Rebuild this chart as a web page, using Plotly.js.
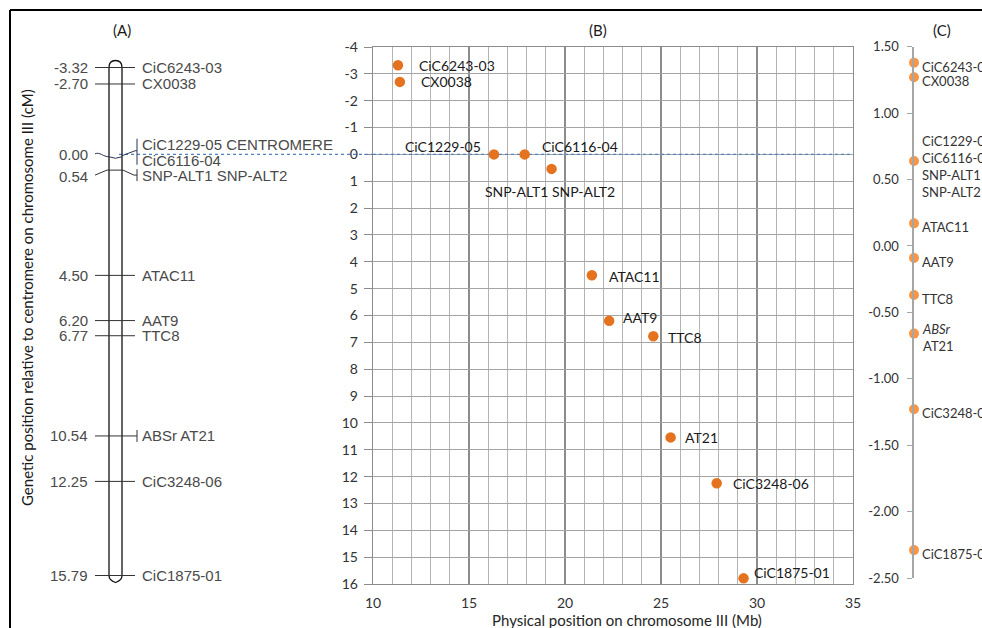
<!DOCTYPE html>
<html>
<head>
<meta charset="utf-8">
<script src="https://cdn.plot.ly/plotly-3.0.1.min.js"></script>
<style>
  html, body { margin: 0; padding: 0; background: #fff; }
  #chart { width: 982px; height: 628px; }
</style>
</head>
<body>
<div id="chart"></div>
<script>
// ---------- data ----------
// (A) linkage map of chromosome III: position relative to the centromere (cM)
const mapPos = [-3.32, -2.70, 0.00, 0.54, 4.50, 6.20, 6.77, 10.54, 12.25, 15.79];
const mapNames = [
  ['CiC6243-03'], ['CX0038'], ['CiC1229-05 CENTROMERE', 'CiC6116-04'],
  ['SNP-ALT1 SNP-ALT2'], ['ATAC11'], ['AAT9'], ['TTC8'], ['ABSr AT21'],
  ['CiC3248-06'], ['CiC1875-01']
];

// (B) physical position (Mb) against genetic position (cM)
const physMb = [11.3, 11.4, 16.3, 17.9, 19.3, 21.4, 22.3, 24.6, 25.5, 27.9, 29.3];
const genCM  = [-3.32, -2.70, 0.00, 0.00, 0.54, 4.50, 6.20, 6.77, 10.54, 12.25, 15.79];
const physNames = ['CiC6243-03', 'CX0038', 'CiC1229-05', 'CiC6116-04', 'SNP-ALT1 SNP-ALT2',
  'ATAC11', 'AAT9', 'TTC8', 'AT21', 'CiC3248-06', 'CiC1875-01'];

// (C) scaled marker values
const cVals = [1.38, 1.27, 0.64, 0.17, -0.09, -0.37, -0.66, -1.23, -2.29];
const cNames = ['CiC6243-03', 'CX0038', 'CiC1229-05<br>CiC6116-04<br>SNP-ALT1<br>SNP-ALT2',
  'ATAC11', 'AAT9', 'TTC8', '<i>ABSr</i><br>AT21', 'CiC3248-06', 'CiC1875-01'];

// tick labels
const bTickX = [10, 15, 20, 25, 30, 35];
const bTickY = [-4, -3, -2, -1, 0, 1, 2, 3, 4, 5, 6, 7, 8, 9, 10, 11, 12, 13, 14, 15, 16];
const cTick  = [1.5, 1.0, 0.5, 0.0, -0.5, -1.0, -1.5, -2.0, -2.5];

// ---------- layout geometry ----------
const W = 982, H = 628;
const fx = p => p / W;          // pixel column -> paper x
const fy = p => 1 - p / H;      // pixel row -> paper y

// panel B plot box (px)
const B = { l: 373, r: 853, t: 47, b: 584 };
// panel A: pixel rows of the first and last map positions
const A = { top: 67.5, bot: 575.5, wallL: 109, wallR: 122, lineL: 95, lineR: 135, numX: 90, nameX: 140 };
const aScale = (A.bot - A.top) / (mapPos[mapPos.length - 1] - mapPos[0]);
const aRange = [mapPos[mapPos.length - 1] + (H - A.bot) / aScale, mapPos[0] - A.top / aScale];
// panel C axis column and vertical extent
const C = { x: 914, t: 46.7, b: 578 };

const fontB = 'Lato, "Open Sans", sans-serif';
const fontA = '"Liberation Sans", Arial, sans-serif';
const orangeB = '#E5721E';
const orangeC = '#F79646';
const inkA = '#4a4a4a';

// label placement for panel B (pixel offsets from each point)
const bLabelStyle = [
  { anchor: 'left', dx: 19, dy: 0 },
  { anchor: 'left', dx: 19, dy: 0 },
  { anchor: 'right', dx: -11, dy: 8 },
  { anchor: 'left', dx: 15, dy: 8 },
  { anchor: 'center', dx: -2, dy: -23 },
  { anchor: 'left', dx: 15, dy: -1 },
  { anchor: 'left', dx: 12, dy: 3 },
  { anchor: 'left', dx: 13, dy: -1 },
  { anchor: 'left', dx: 12, dy: 0 },
  { anchor: 'left', dx: 14, dy: 0 },
  { anchor: 'left', dx: 8, dy: 6 }
];
// connector style for panel A (plain / centromere / snp / bracket)
const aStyle = ['plain', 'plain', 'centromere', 'snp', 'plain', 'plain', 'plain', 'bracket', 'plain', 'plain'];

// ---------- traces ----------
const traces = [
  {
    type: 'scatter', mode: 'markers', x: physMb, y: genCM, xaxis: 'x', yaxis: 'y',
    marker: { color: orangeB, size: 10.5 }, cliponaxis: false, hoverinfo: 'skip'
  },
  {
    type: 'scatter', mode: 'markers', x: cVals.map(() => 0), y: cVals, xaxis: 'x3', yaxis: 'y3',
    marker: { color: orangeC, size: 10 }, cliponaxis: false, hoverinfo: 'skip'
  }
];

// ---------- shapes ----------
const shapes = [];
const line = (x0, y0, x1, y1, color, width) => ({
  type: 'line', xref: 'paper', yref: 'paper', x0: fx(x0), y0: fy(y0), x1: fx(x1), y1: fy(y1),
  line: { color, width }, layer: 'above'
});
// outer frame
shapes.push(line(10, 10, W + 5, 10, '#000', 2));
shapes.push(line(10, 10, 10, H + 5, '#000', 2));

// centromere reference line (genetic position 0)
shapes.push({
  type: 'line', xref: 'x', yref: 'y', x0: 10, x1: 35, y0: 0, y1: 0, layer: 'between',
  line: { color: '#4F81BD', width: 1.3, dash: 'dot' }
});
shapes.push({
  type: 'line', xref: 'paper', yref: 'y', x0: fx(A.wallR - 3), x1: fx(B.l), y0: 0, y1: 0, layer: 'above',
  line: { color: '#4F81BD', width: 1.3, dash: 'dot' }
});

// chromosome body (A)
const first = mapPos[0], last = mapPos[mapPos.length - 1];
[A.wallL, A.wallR].forEach(xw => shapes.push({
  type: 'line', xref: 'x2', yref: 'y2', x0: xw, x1: xw, y0: first, y1: last,
  line: { color: '#111', width: 1.3 }, layer: 'above'
}));
const mid = (A.wallL + A.wallR) / 2;
shapes.push({
  type: 'path', xref: 'x2', yref: 'y2', ysizemode: 'pixel', yanchor: first, layer: 'above',
  path: `M${A.wallL},0 C${A.wallL},5 ${mid - 4},7 ${mid},7 C${mid + 4},7 ${A.wallR},5 ${A.wallR},0`,
  line: { color: '#111', width: 1.3 }
});
shapes.push({
  type: 'path', xref: 'x2', yref: 'y2', ysizemode: 'pixel', yanchor: last, layer: 'above',
  path: `M${A.wallL},0 C${A.wallL},-4 ${mid - 3},-6 ${mid},-7 C${mid + 3},-6 ${A.wallR},-4 ${A.wallR},0`,
  line: { color: '#111', width: 1.3 }
});

// marker connectors (A), offsets in pixels around each map position
function connectorPath(kind) {
  const L = A.lineL, wl = A.wallL, wr = A.wallR, R = A.lineR, bx = R + 2;
  if (kind === 'centromere') {
    return `M${L},2 C${L + 5},4 ${wl - 6},-1 ${wl},-1 Q${mid},-4 ${wr},-1 ` +
           `M${wr},0 L${R},5 L${bx},5 M${bx},17 L${bx},-9`;
  }
  if (kind === 'snp') {
    return `M${L},-5 L${wl - 2},0 L${wr + 1},0 L${R - 1},-5 L${bx},-5 M${bx},1 L${bx},-11`;
  }
  if (kind === 'bracket') {
    return `M${L},0 L${bx},0 M${bx},6 L${bx},-6`;
  }
  return `M${L},0 L${R},0`;
}
mapPos.forEach((v, i) => shapes.push({
  type: 'path', xref: 'x2', yref: 'y2', ysizemode: 'pixel', yanchor: v, layer: 'above',
  path: connectorPath(aStyle[i]),
  line: { color: aStyle[i] === 'centromere' ? '#2a3550' : '#333', width: 1 }
}));

// ---------- annotations ----------
const ann = [];
// panel letters
[['(A)', 122], ['(B)', 598], ['(C)', 942]].forEach(([t, x]) => ann.push({
  text: t, xref: 'paper', yref: 'paper', x: fx(x), y: fy(30), showarrow: false,
  xanchor: 'center', yanchor: 'middle', font: { family: fontB, size: 15, color: '#1a1a1a' }
}));
// axis titles
ann.push({
  text: 'Genetic position relative to centromere on chromosome III (cM)',
  xref: 'paper', yref: 'paper', x: fx(27), y: fy(298), textangle: -90, showarrow: false,
  xanchor: 'center', yanchor: 'middle', font: { family: fontB, size: 15, color: '#1a1a1a' }
});
ann.push({
  text: 'Physical position on chromosome III (Mb)',
  xref: 'paper', yref: 'paper', x: fx(627), y: fy(620), showarrow: false,
  xanchor: 'center', yanchor: 'middle', font: { family: fontB, size: 15, color: '#262626' }
});

// panel A labels
const numShift = { snp: -6, centromere: 1 };
mapPos.forEach((v, i) => {
  const kind = aStyle[i];
  ann.push({
    text: v.toFixed(2), xref: 'x2', yref: 'y2', x: A.numX, y: v, showarrow: false,
    xanchor: 'right', yanchor: 'middle', yshift: numShift[kind] || 0,
    font: { family: fontA, size: 15, color: inkA }
  });
  const shifts = kind === 'centromere' ? [11, -5] : kind === 'snp' ? [-5] : [0];
  mapNames[i].forEach((nm, k) => ann.push({
    text: nm, xref: 'x2', yref: 'y2', x: A.nameX, y: v, showarrow: false,
    xanchor: 'left', yanchor: 'middle', yshift: shifts[k],
    font: { family: fontA, size: 15, color: inkA }
  }));
});

// panel B labels
physNames.forEach((nm, i) => {
  const s = bLabelStyle[i];
  ann.push({
    text: nm, xref: 'x', yref: 'y', x: physMb[i], y: genCM[i], showarrow: false,
    xanchor: s.anchor, yanchor: 'middle', xshift: s.dx, yshift: s.dy,
    font: { family: fontB, size: 14, color: '#1a1a1a' }
  });
});

// panel C labels
cNames.forEach((nm, i) => ann.push({
  text: nm, xref: 'x3', yref: 'y3', x: 0, y: cVals[i], showarrow: false,
  xanchor: 'left', yanchor: 'middle', align: 'left', xshift: 6,
  yshift: nm.split('<br>').length > 2 ? -6 : -4,
  font: { family: fontB, size: 13, color: '#333' }
}));

// ---------- layout ----------
const layout = {
  width: W, height: H,
  margin: { l: 0, r: 0, t: 0, b: 0, pad: 0 },
  paper_bgcolor: '#fff', plot_bgcolor: 'rgba(0,0,0,0)',
  showlegend: false,
  xaxis: {
    domain: [fx(B.l), fx(B.r)], range: [10, 35], anchor: 'y',
    tickvals: bTickX, ticktext: bTickX.map(String),
    showgrid: true, gridcolor: '#8C8C8C', gridwidth: 1.2,
    minor: { dtick: 1, tick0: 10, showgrid: true, gridcolor: '#B4B4B4', gridwidth: 1 },
    showline: true, linecolor: '#8C8C8C', linewidth: 1.3, mirror: true,
    zeroline: false, ticks: '', ticklabelstandoff: 6,
    tickfont: { family: fontB, size: 14, color: '#333' }
  },
  yaxis: {
    domain: [fy(B.b), fy(B.t)], range: [16, -4], anchor: 'x',
    tickvals: bTickY, ticktext: bTickY.map(String),
    showgrid: true, gridcolor: '#A4A4A4', gridwidth: 1,
    showline: true, linecolor: '#8C8C8C', linewidth: 1.3, mirror: true,
    zeroline: false, ticks: 'outside', ticklen: 8, tickcolor: '#8C8C8C', tickwidth: 1,
    ticklabelstandoff: 3,
    tickfont: { family: fontB, size: 14, color: '#333' }
  },
  xaxis2: {
    domain: [0, 1], range: [0, W], anchor: 'y2', visible: false, fixedrange: true
  },
  yaxis2: {
    domain: [0, 1], range: aRange, anchor: 'x2', visible: false, fixedrange: true
  },
  xaxis3: {
    domain: [fx(C.x), 1], range: [0, 1], anchor: 'y3', visible: false
  },
  yaxis3: {
    domain: [fy(C.b), fy(C.t)], range: [-2.5, 1.5], anchor: 'x3', side: 'left',
    tickvals: cTick, ticktext: cTick.map(v => v.toFixed(2)),
    showgrid: false, zeroline: false,
    showline: true, linecolor: '#A6A6A6', linewidth: 1.6,
    ticks: 'outside', ticklen: 5, tickcolor: '#A6A6A6', tickwidth: 1,
    ticklabelstandoff: 6,
    tickfont: { family: fontB, size: 13, color: '#333' }
  },
  shapes: shapes,
  annotations: ann
};

Plotly.newPlot('chart', traces, layout, { staticPlot: true, displayModeBar: false });
</script>
</body>
</html>
